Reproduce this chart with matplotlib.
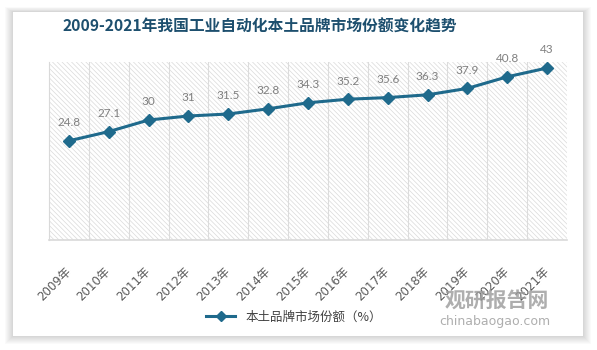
import matplotlib.pyplot as plt
from matplotlib.patches import Rectangle
from matplotlib.lines import Line2D

# 数据
years = ['2009年', '2010年', '2011年', '2012年', '2013年', '2014年', '2015年',
         '2016年', '2017年', '2018年', '2019年', '2020年', '2021年']
share = [24.8, 27.1, 30, 31, 31.5, 32.8, 34.3, 35.2, 35.6, 36.3, 37.9, 40.8, 43]
value_labels = ['24.8', '27.1', '30', '31', '31.5', '32.8', '34.3', '35.2',
                '35.6', '36.3', '37.9', '40.8', '43']

plt.rcParams['font.family'] = ['Noto Sans CJK SC', 'DejaVu Sans']
plt.rcParams['hatch.linewidth'] = 0.5

LINE = '#1f6a8c'
W, H = 597, 350

fig = plt.figure(figsize=(W / 100, H / 100), dpi=100)
fig.patch.set_facecolor('white')

def px_rect(x0, y0, x1, y1, **kw):
    # Rechteck in Pixelkoordinaten (y von oben)
    return Rectangle((x0 / W, 1 - y1 / H), (x1 - x0) / W, (y1 - y0) / H,
                     transform=fig.transFigure, **kw)

# Schatten + weiße Karte
for i in range(8, 0, -1):
    fig.patches.append(px_rect(13 - i, 12 - i * 0.6, 583 + i, 336 + i,
                               facecolor='black', alpha=0.018, lw=0, zorder=0))
fig.patches.append(px_rect(13, 12, 583, 336, facecolor='white', lw=0, zorder=1))

ax = fig.add_axes([49 / W, 1 - 240 / H, (567 - 49) / W, (240 - 62) / H])
ax.set_zorder(2)
ax.patch.set_alpha(0)

# schraffierter Hintergrund
ax.add_patch(Rectangle((0, 0), 1, 1, transform=ax.transAxes, facecolor='white',
                       edgecolor='#dadada', hatch='\\' * 7, lw=0, zorder=0))

x = list(range(len(years)))
ax.set_xlim(-0.5, len(years) - 0.5)
ax.set_ylim(0, 44.5)

for b in range(1, len(years)):
    ax.axvline(b - 0.5, color='#dcdcdc', lw=0.8, zorder=1)

ax.plot(x, share, color=LINE, lw=2.2, marker='D', markersize=6.5,
        markerfacecolor=LINE, markeredgecolor=LINE, zorder=3)

for xi, yi, lab in zip(x, share, value_labels):
    ax.annotate(lab, (xi, yi), xytext=(0, 13), textcoords='offset points',
                ha='center', va='center', fontsize=8.5, color='#808080',
                family=['Lato', 'DejaVu Sans'])

for s in ['top', 'right']:
    ax.spines[s].set_visible(False)
ax.spines['left'].set_color('#d9d9d9')
ax.spines['bottom'].set_color('#d9d9d9')
ax.spines['bottom'].set_linewidth(1.2)

ax.set_yticks([])
ax.set_xticks(x)
ax.set_xticklabels(years, rotation=45, ha='right', va='center',
                   rotation_mode='anchor', fontsize=8.5, color='#5a5a5a',
                   family=['DejaVu Sans', 'Noto Sans CJK SC'])
ax.tick_params(axis='x', length=0, pad=21)

fig.text(260 / W, 1 - 27 / H, '2009-2021年我国工业自动化本土品牌市场份额变化趋势',
         ha='center', va='center', fontsize=11.3, fontweight='bold', color='#1d4f6e',
         zorder=3)

handle = Line2D([], [], color=LINE, lw=2.2, marker='D', markersize=5.5)
fig.legend([handle], ['本土品牌市场份额（%）'], loc='center',
           bbox_to_anchor=(294 / W, 1 - 317 / H), frameon=False, fontsize=9,
           handlelength=2.3, labelcolor='#404040')

# 水印
fig.text(497 / W, 1 - 300 / H, '观研报告网', ha='center', va='center', fontsize=15,
         fontweight='bold', color='#9a9a9a', alpha=0.8, zorder=3)
fig.text(495 / W, 1 - 321 / H, 'chinabaogao.com', ha='center', va='center',
         fontsize=9, color='#9a9a9a', alpha=0.8, family='DejaVu Sans', zorder=3)

fig.savefig('out.png', dpi=100)
